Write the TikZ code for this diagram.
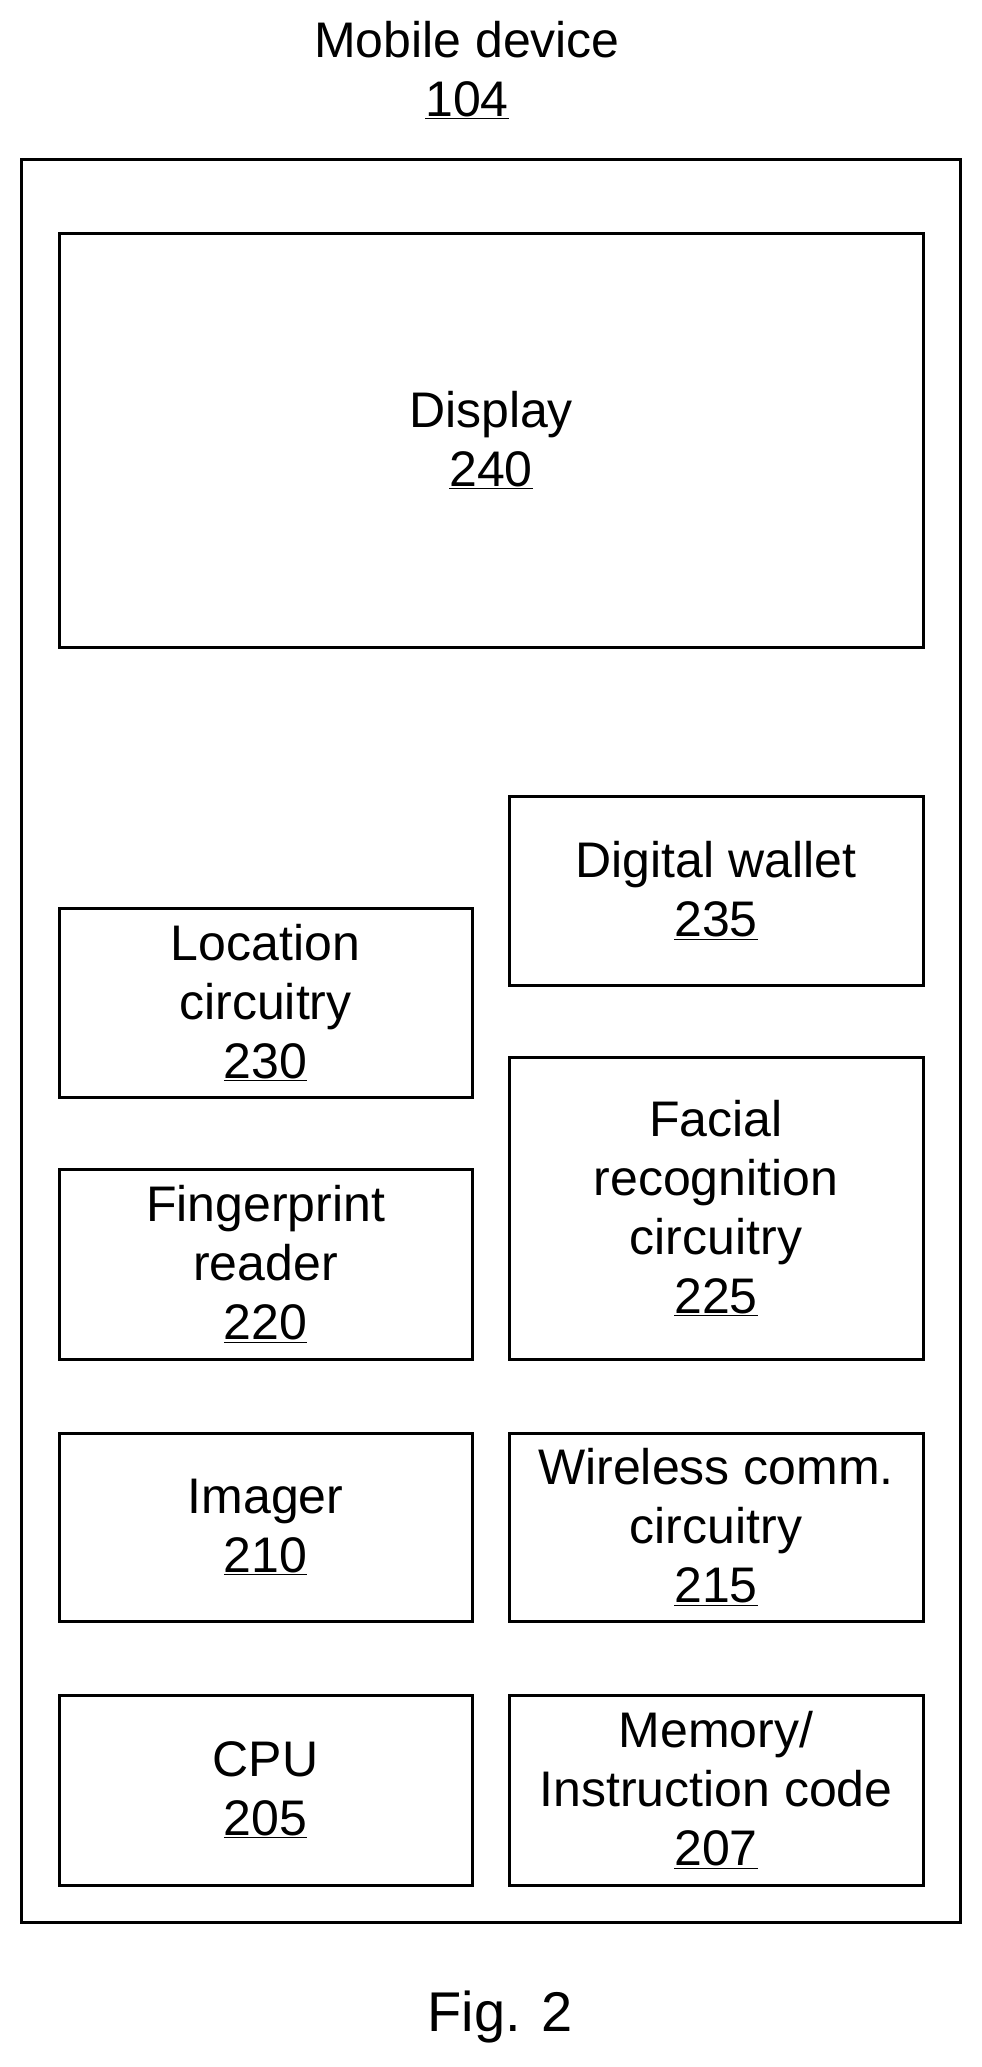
\documentclass[tikz,border=0pt]{standalone}
\usepackage{fontspec}
\setmainfont{Liberation Sans}
\begin{document}
\begin{tikzpicture}[x=1pt,y=-1pt,
  box/.style={draw,line width=3pt},
  lbl/.style={align=center,font=\fontsize{50}{59}\selectfont,inner sep=0pt}]
\useasboundingbox (0,0) rectangle (982,2067);
\draw[box] (21,159) rectangle (960,1922);
\newcommand{\bx}[6]{\draw[box] (#1,#2) rectangle (#3,#4); \node[lbl] (#5) at ({(#1+#3)/2},{(#2+#4)/2}) {#6};}
\bx{59}{233}{923}{647}{disp}{Display\\\underline{240}}
\bx{509}{796}{923}{985}{wal}{Digital wallet\\\underline{235}}
\bx{59}{908}{472}{1097}{loc}{Location\\circuitry\\\underline{230}}
\bx{509}{1057}{923}{1359}{fac}{Facial\\recognition\\circuitry\\\underline{225}}
\bx{59}{1169}{472}{1359}{fin}{Fingerprint\\reader\\\underline{220}}
\bx{59}{1433}{472}{1621}{img}{Imager\\\underline{210}}
\bx{509}{1433}{923}{1621}{wir}{Wireless comm.\\circuitry\\\underline{215}}
\bx{59}{1695}{472}{1885}{cpu}{CPU\\\underline{205}}
\bx{509}{1695}{923}{1885}{mem}{Memory/\\Instruction code\\\underline{207}}
\node[lbl] (title) at (467,70) {Mobile device\\\underline{104}};
\node[lbl,font=\fontsize{56}{60}\selectfont] (fig) at (500,2017) {Fig. 2};
\end{tikzpicture}
\end{document}
